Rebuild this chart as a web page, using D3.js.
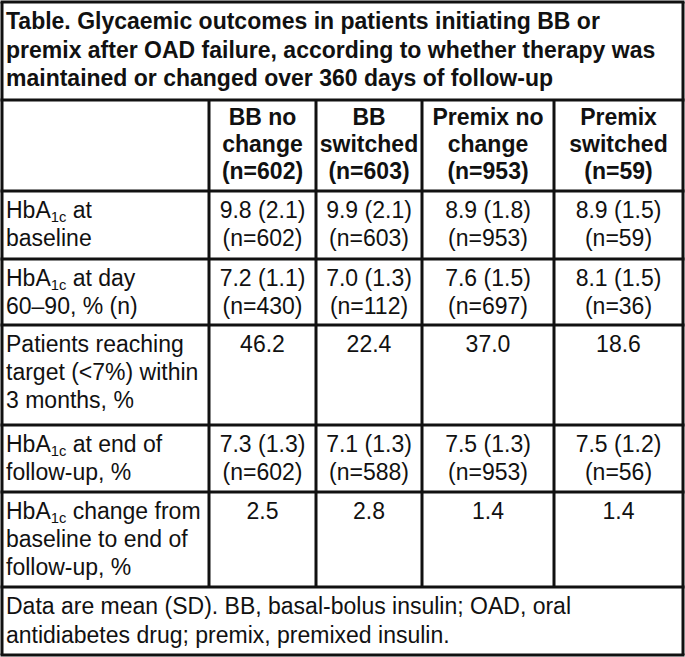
<!DOCTYPE html>
<html>
<head>
<meta charset="utf-8">
<script src="https://cdn.jsdelivr.net/npm/d3@7"></script>
<style>
  body { margin: 0; background: #fff; }
  text { font-family: "Liberation Sans", Arial, sans-serif; fill: #111; }
</style>
</head>
<body>
<script>
var width = 685,
    height = 657;

// ---- data ----
var titleLines = [
  "Table. Glycaemic outcomes in patients initiating BB or",
  "premix after OAD failure, according to whether therapy was",
  "maintained or changed over 360 days of follow-up"
];
var groups = [
  ["BB no", "change", "(n=602)"],
  ["BB", "switched", "(n=603)"],
  ["Premix no", "change", "(n=953)"],
  ["Premix", "switched", "(n=59)"]
];
var rowLabels = [
  ["HbA_1c at", "baseline"],
  ["HbA_1c at day", "60–90, % (n)"],
  ["Patients reaching", "target (<7%) within", "3 months, %"],
  ["HbA_1c at end of", "follow-up, %"],
  ["HbA_1c change from", "baseline to end of", "follow-up, %"]
];
var baselineMean = [9.8, 9.9, 8.9, 8.9],
    baselineSD   = [2.1, 2.1, 1.8, 1.5],
    baselineN    = [602, 603, 953, 59];
var day60Mean = [7.2, 7.0, 7.6, 8.1],
    day60SD   = [1.1, 1.3, 1.5, 1.5],
    day60N    = [430, 112, 697, 36];
var targetPct = [46.2, 22.4, 37.0, 18.6];
var endMean = [7.3, 7.1, 7.5, 7.5],
    endSD   = [1.3, 1.3, 1.3, 1.2],
    endN    = [602, 588, 953, 56];
var changeHbA1c = [2.5, 2.8, 1.4, 1.4];
var footLines = [
  "Data are mean (SD). BB, basal-bolus insulin; OAD, oral",
  "antidiabetes drug; premix, premixed insulin."
];

var f1 = d3.format(".1f");
function meanCell(m, s, n) {
  return m.map(function(v, i) { return [f1(v) + " (" + f1(s[i]) + ")", "(n=" + n[i] + ")"]; });
}
var cells = [
  meanCell(baselineMean, baselineSD, baselineN),
  meanCell(day60Mean, day60SD, day60N),
  targetPct.map(function(v) { return [f1(v)]; }),
  meanCell(endMean, endSD, endN),
  changeHbA1c.map(function(v) { return [f1(v)]; })
];

// ---- layout scales ----
var colEdge = d3.scaleOrdinal().domain(d3.range(6)).range([2, 209, 316, 422, 554, 683]);
var rowEdge = d3.scaleOrdinal().domain(d3.range(9)).range([2, 100, 191, 259, 325, 425, 492, 587, 655]);
var fs = 23;

var svg = d3.select("body").append("svg")
    .attr("width", width)
    .attr("height", height);

svg.append("rect")
    .attr("width", width).attr("height", height)
    .attr("fill", "#fff");

// text helper: supports "_1c" subscript
function addLine(sel, str) {
  var parts = str.split("_1c");
  sel.append("tspan").text(parts[0]);
  if (parts.length > 1) {
    sel.append("tspan").attr("font-size", fs * 0.64).attr("dy", 4).text("1c");
    sel.append("tspan").attr("dy", -4).text(parts[1]);
  }
}

function block(lines, x, y0, lh, anchor, bold) {
  var g = svg.append("g");
  g.selectAll("text")
      .data(lines)
    .enter().append("text")
      .attr("x", x)
      .attr("y", function(d, i) { return y0 + i * lh; })
      .attr("font-size", fs)
      .attr("font-weight", bold ? "bold" : "normal")
      .attr("text-anchor", anchor)
      .each(function(d) { addLine(d3.select(this), d); });
}

// title
block(titleLines, 6, 29, 28.5, "start", true);

// header
groups.forEach(function(g, i) {
  block(g, (colEdge(i + 1) + colEdge(i + 2)) / 2, rowEdge(1) + 25, 27, "middle", true);
});

// body rows
rowLabels.forEach(function(lab, r) {
  var top = rowEdge(r + 2);
  block(lab, 6, top + 27, 28, "start", false);
  cells[r].forEach(function(c, i) {
    block(c, (colEdge(i + 1) + colEdge(i + 2)) / 2, top + 27, 28, "middle", false);
  });
});

// footnote
block(footLines, 6, rowEdge(7) + 27, 29, "start", false);

// grid lines
var grid = svg.append("g")
    .attr("stroke", "#111")
    .attr("fill", "none")
    .attr("stroke-width", 3);

grid.selectAll(".h")
    .data(d3.range(9))
  .enter().append("line")
    .attr("x1", colEdge(0) - 1.5).attr("x2", colEdge(5) + 1.5)
    .attr("y1", rowEdge).attr("y2", rowEdge);

grid.selectAll(".v")
    .data(d3.range(6))
  .enter().append("line")
    .attr("x1", colEdge).attr("x2", colEdge)
    .attr("y1", function(d) { return d == 0 || d == 5 ? rowEdge(0) : rowEdge(1); })
    .attr("y2", function(d) { return d == 0 || d == 5 ? rowEdge(8) : rowEdge(7); });
</script>
</body>
</html>
